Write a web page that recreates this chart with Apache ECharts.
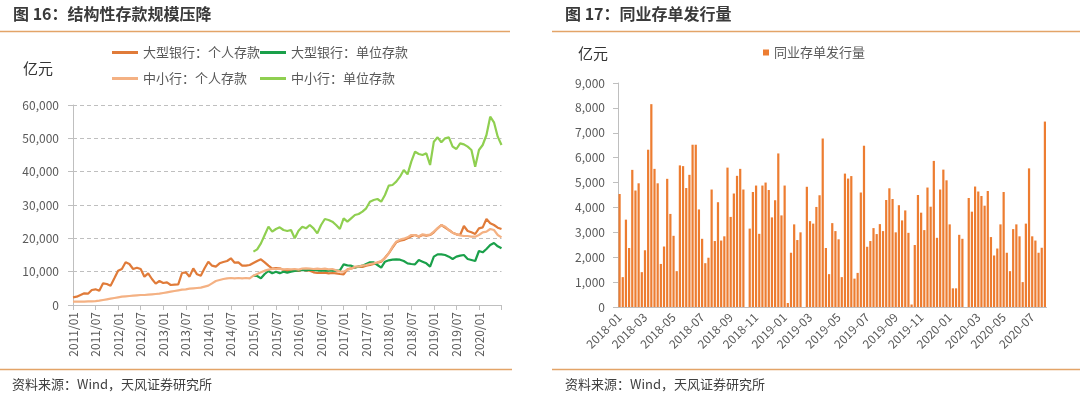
<!DOCTYPE html>
<html><head><meta charset="utf-8">
<script src="https://cdn.jsdelivr.net/npm/echarts@6/dist/echarts.min.js"></script>
<style>html,body{margin:0;padding:0;background:#fff}#c{width:1080px;height:398px}</style>
</head><body><div id="c"></div>
<script>
// ---------- Left chart (图16) : monthly 2011/01 - 2020/07 ----------
const lineStartYear = 2011, lineEndYear = 2020, lineEndMonth = 7;
const lineMonths = [];
for (let y = lineStartYear; y <= lineEndYear; y++) {
  for (let m = 1; m <= 12; m++) {
    if (y === lineEndYear && m > lineEndMonth) break;
    lineMonths.push(y + '/' + String(m).padStart(2, '0'));
  }
}
const seriesNames = ['大型银行：个人存款', '大型银行：单位存款', '中小行：个人存款', '中小行：单位存款'];

const bigPersonal = [
  2300,2500,3000,3500,3400,4500,4700,4300,6500,6300,5800,8000,
  10300,10800,12800,12300,10800,11200,10800,8500,9500,7800,6400,7200,
  6600,6800,6000,6100,6200,9600,9800,8500,11000,9200,8800,11000,
  13000,11800,11500,12500,12900,13200,14000,12700,12800,11800,11800,12000,
  12600,13200,13700,12800,11800,10900,11100,11000,10500,10200,10300,10300,
  10200,10600,10400,10300,9800,9600,9600,9700,9500,9600,9500,9300,
  9200,10700,11000,11300,11500,11400,11800,12000,12300,12700,13000,14200,
  15500,17200,18800,19300,19500,20000,20600,21000,20500,21000,20800,21000,
  21800,23000,24000,23200,22500,21700,21200,21000,23700,22200,21800,21300,
  23000,23300,25800,24500,24000,23200,22800
];
const smallPersonal = [
  1000,1000,1050,1000,1100,1100,1150,1300,1500,1700,1900,2100,
  2300,2500,2600,2700,2800,2900,3000,3000,3100,3200,3300,3400,
  3600,3800,4000,4200,4400,4600,4700,4900,5000,5100,5200,5500,
  5800,6500,7200,7500,7800,8000,8100,8000,8100,8000,8100,8000,
  8800,9300,9800,10300,10600,10800,10800,10900,10700,10800,10700,10800,
  10600,10900,11000,10900,10800,10900,10800,10900,10700,10800,10400,10100,
  10000,10600,10900,11500,11500,11800,12000,12300,12500,12800,13200,14000,
  15500,17500,19000,19600,19900,20300,21000,21000,20600,21200,21000,21100,
  22000,23000,24000,23500,22500,21700,21200,20900,20700,20700,20500,20500,
  21000,21800,22000,22800,22500,21000,20300
];
// unit deposits start 2015/01
const unitStartMonth = '2015/01';
const bigUnit = [
  8800,8700,8000,9300,10200,9500,10000,9500,10000,9700,10000,10200,
  10400,10500,10400,10600,10500,10400,10300,10400,10300,10300,10300,10400,
  12200,11900,11800,11300,11500,11800,12300,12800,12800,12000,11200,13000,
  13400,13600,13700,13600,13200,12500,12300,12200,13500,13000,12500,11500,
  14500,15200,15200,15000,14500,13800,14500,14800,15000,13800,13500,13200,
  16200,15800,16800,18000,18600,17600,17000
];
const smallUnit = [
  16000,16700,18500,21000,23500,22000,22800,23300,22500,22200,22500,20000,
  22300,23500,23000,24000,23000,21500,24000,25800,25500,25000,24000,22800,
  26000,25000,26000,27000,27300,28000,29000,31000,31500,31800,31000,33000,
  35800,36000,37000,38500,40500,39200,43000,46000,45300,45000,45500,42000,
  49000,50300,48800,50000,50300,47500,46800,48500,48200,47500,46500,41500,
  46500,48000,51000,56500,54800,50500,48000
];

// ---------- Right chart (图17) : weekly issuance ----------
const barStartDate = '2018-01-05';
const barName = '同业存单发行量';
const barValues = [
  4540,1200,3510,2370,5510,4680,4970,1400,2280,6320,
  8150,5550,4970,1730,2430,5150,3740,2860,1440,5690,
  5660,4780,5310,6520,6520,3920,2740,1760,1980,4720,
  2650,4210,2670,2840,5600,3620,4560,5270,5550,4720,
  0,3150,4620,4880,2940,4880,5000,4700,3600,4290,
  6170,3680,4880,160,2180,3320,2690,3000,0,4830,
  3450,3350,4020,4490,6770,2370,1320,3370,3050,2720,
  1200,5360,5160,5260,1140,1370,4600,6480,2420,2650,
  3170,2930,3330,3050,4300,4770,4340,3000,4090,3480,
  3880,2980,100,2490,4500,3790,3090,4800,4030,5870,
  2780,4720,5520,5090,3320,750,750,2900,2740,0,
  4380,3830,4840,4640,4460,4070,4660,2810,2070,2350,
  3320,4620,2180,1440,3130,3320,2840,1000,3350,5570,
  2840,2670,2180,2380,7450
];
const barWeeks = [];
{
  const d0 = new Date(barStartDate + 'T00:00:00Z');
  for (let i = 0; i < barValues.length; i++) {
    const d = new Date(d0.getTime() + i * 7 * 86400000);
    barWeeks.push(d.toISOString().slice(0, 10));
  }
}
function weekLabelShown(i) {
  if (i === 0) return true;
  const m = +barWeeks[i].slice(5, 7), pm = +barWeeks[i - 1].slice(5, 7);
  return m !== pm && m % 2 === 1;
}

// ---------- build ----------
const unitOffset = lineMonths.indexOf(unitStartMonth);
const pad = arr => new Array(unitOffset).fill(null).concat(arr);

const FONT = '"Noto Sans CJK SC", "Noto Sans", sans-serif';
const gray = '#595959';
const axisGray = '#BFBFBF';
const accent = '#E3A468';
const thousands = v => String(v).replace(/\B(?=(\d{3})+(?!\d))/g, ',');

const legendBase = {
  icon: 'rect', itemWidth: 26, itemHeight: 3, selectedMode: false,
  textStyle: { fontSize: 13, color: gray, fontFamily: FONT }, padding: 0
};

const chart = echarts.init(document.getElementById('c'));
chart.setOption({
  animation: false,
  textStyle: { fontFamily: FONT },
  grid: [
    { left: 73, top: 105, width: 428.5, height: 200 },
    { left: 618, top: 83, width: 428.5, height: 224 }
  ],
  legend: [
    Object.assign({}, legendBase, { left: 112, top: 46, data: [seriesNames[0]] }),
    Object.assign({}, legendBase, { left: 260, top: 46, data: [seriesNames[1]] }),
    Object.assign({}, legendBase, { left: 112, top: 72, data: [seriesNames[2]] }),
    Object.assign({}, legendBase, { left: 260, top: 72, data: [seriesNames[3]] }),
    Object.assign({}, legendBase, { left: 763, top: 46, itemWidth: 6, itemHeight: 6, data: [barName] })
  ],
  xAxis: [
    {
      gridIndex: 0, type: 'category', data: lineMonths, boundaryGap: false,
      axisLine: { lineStyle: { color: axisGray } },
      axisTick: { interval: i => i % 6 === 0, length: 5, lineStyle: { color: axisGray } },
      axisLabel: { interval: i => i % 6 === 0 && i < lineMonths.length - 1, rotate: 90, color: gray, fontSize: 12, margin: 7, fontFamily: FONT }
    },
    {
      gridIndex: 1, type: 'category', data: barWeeks,
      axisLine: { lineStyle: { color: axisGray } },
      axisTick: { interval: weekLabelShown, length: 5, lineStyle: { color: axisGray } },
      axisLabel: { interval: weekLabelShown, rotate: 45, color: gray, fontSize: 12, margin: 8, fontFamily: FONT, formatter: v => v.slice(0, 7) }
    }
  ],
  yAxis: [
    {
      gridIndex: 0, type: 'value', min: 0, max: 60000, interval: 10000,
      axisLine: { show: true, lineStyle: { color: axisGray } },
      axisTick: { show: true, length: 5, lineStyle: { color: axisGray } },
      splitLine: { show: true, lineStyle: { type: [4, 3], color: '#BFBFBF' } },
      axisLabel: { color: gray, fontSize: 12, margin: 14, formatter: thousands, fontFamily: FONT }
    },
    {
      gridIndex: 1, type: 'value', min: 0, max: 9000, interval: 1000,
      axisLine: { show: true, lineStyle: { color: axisGray } },
      axisTick: { show: true, length: 5, lineStyle: { color: axisGray } },
      splitLine: { show: false },
      axisLabel: { color: gray, fontSize: 12, margin: 13, formatter: thousands, fontFamily: FONT }
    }
  ],
  series: [
    { name: seriesNames[0], type: 'line', xAxisIndex: 0, yAxisIndex: 0, data: bigPersonal, showSymbol: false, color: '#E07B39', lineStyle: { width: 2.2 } },
    { name: seriesNames[1], type: 'line', xAxisIndex: 0, yAxisIndex: 0, data: pad(bigUnit), showSymbol: false, color: '#1AA04A', lineStyle: { width: 2.2 } },
    { name: seriesNames[2], type: 'line', xAxisIndex: 0, yAxisIndex: 0, data: smallPersonal, showSymbol: false, color: '#F4B183', lineStyle: { width: 2.2 } },
    { name: seriesNames[3], type: 'line', xAxisIndex: 0, yAxisIndex: 0, data: pad(smallUnit), showSymbol: false, color: '#8FCF50', lineStyle: { width: 2.2 } },
    { name: barName, type: 'bar', xAxisIndex: 1, yAxisIndex: 1, data: barValues, color: '#ED7D31', barCategoryGap: '30%' }
  ],
  graphic: [
    { type: 'text', left: 13, top: 6, style: { text: '图 16：结构性存款规模压降', font: 'bold 16px ' + FONT, fill: '#3A3A3A' } },
    { type: 'text', left: 565, top: 6, style: { text: '图 17：同业存单发行量', font: 'bold 16px ' + FONT, fill: '#3A3A3A' } },
    { type: 'line', shape: { x1: 0, y1: 31.5, x2: 510, y2: 31.5 }, style: { stroke: accent, lineWidth: 1.5 } },
    { type: 'line', shape: { x1: 552, y1: 31.5, x2: 1080, y2: 31.5 }, style: { stroke: accent, lineWidth: 1.5 } },
    { type: 'line', shape: { x1: 0, y1: 369.5, x2: 512, y2: 369.5 }, style: { stroke: accent, lineWidth: 1.5 } },
    { type: 'line', shape: { x1: 552, y1: 369.5, x2: 1080, y2: 369.5 }, style: { stroke: accent, lineWidth: 1.5 } },
    { type: 'text', left: 12, top: 378, style: { text: '资料来源：Wind，天风证券研究所', font: '13px ' + FONT, fill: '#404040' } },
    { type: 'text', left: 565, top: 378, style: { text: '资料来源：Wind，天风证券研究所', font: '13px ' + FONT, fill: '#404040' } },
    { type: 'text', left: 23, top: 61, style: { text: '亿元', font: '15px ' + FONT, fill: '#333' } },
    { type: 'text', left: 578, top: 46, style: { text: '亿元', font: '15px ' + FONT, fill: '#333' } }
  ]
});
</script>
</body></html>
